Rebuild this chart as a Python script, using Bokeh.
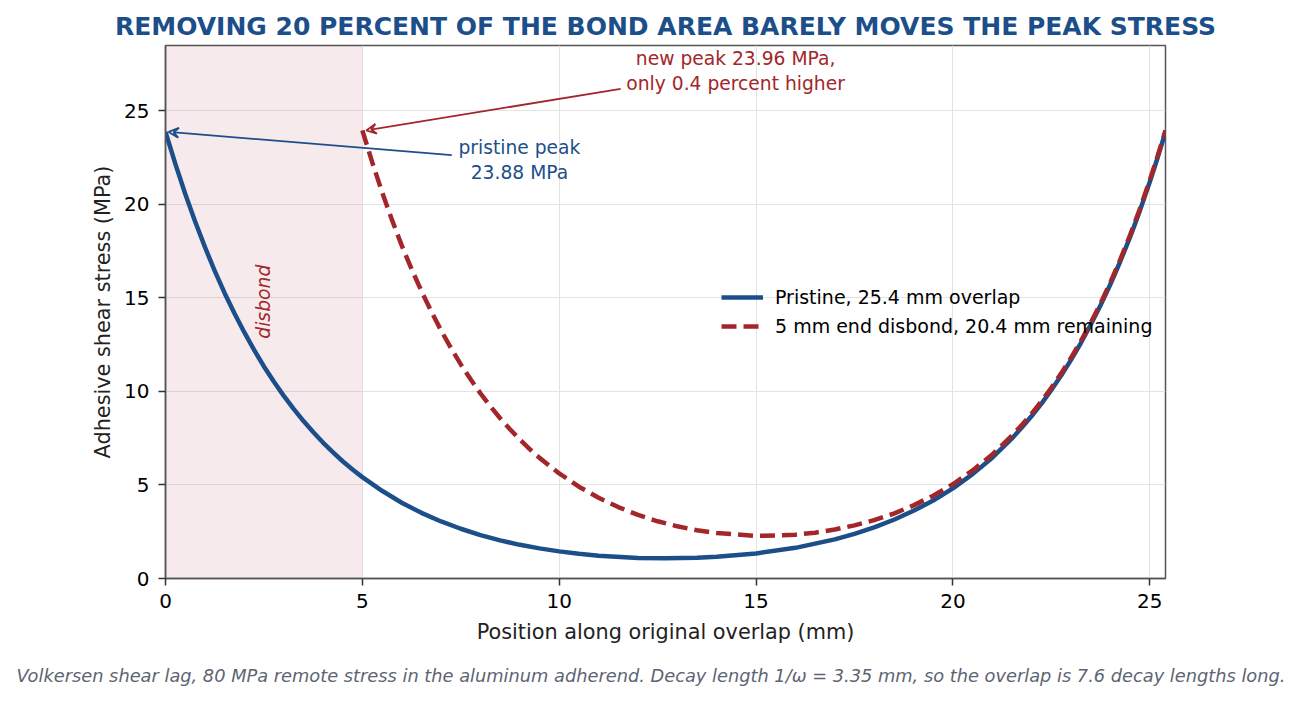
from bokeh.plotting import figure
from bokeh.models import (BoxAnnotation, Label, Arrow, VeeHead, Legend, LegendItem,
                          FixedTicker, Range1d, ColumnDataSource, Title)
from bokeh.embed import file_html
from bokeh.resources import INLINE

# ---- data ----
pristine_x = [0, 0.25, 0.5, 0.75, 1, 1.25, 1.5, 1.75, 2, 2.25, 2.5, 2.75, 3, 3.25, 3.5, 3.75,
              4, 4.25, 4.5, 4.75, 5, 5.5, 6, 6.5, 7, 7.5, 8, 8.5, 9, 9.5, 10, 10.5, 11, 12,
              12.7, 13.5, 14, 15, 16, 17, 17.5, 18, 18.5, 19, 19.5, 20, 20.5, 21, 21.5,
              21.75, 22, 22.25, 22.5, 22.75, 23, 23.25, 23.5, 23.75, 24, 24.25, 24.5, 24.75,
              25, 25.2, 25.4]
pristine_y = [23.88, 22.17, 20.57, 19.10, 17.73, 16.45, 15.27, 14.18, 13.17, 12.22, 11.34,
              10.53, 9.78, 9.08, 8.43, 7.83, 7.27, 6.76, 6.27, 5.83, 5.42, 4.69, 4.05, 3.51,
              3.05, 2.66, 2.32, 2.04, 1.80, 1.61, 1.45, 1.32, 1.22, 1.10, 1.08, 1.11, 1.16,
              1.34, 1.64, 2.09, 2.39, 2.73, 3.14, 3.62, 4.17, 4.82, 5.58, 6.46, 7.49, 8.07,
              8.69, 9.35, 10.08, 10.85, 11.69, 12.59, 13.57, 14.61, 15.73, 16.95, 18.25,
              19.67, 21.20, 22.50, 23.88]

disbond_x = [5, 5.25, 5.5, 5.75, 6, 6.25, 6.5, 6.75, 7, 7.25, 7.5, 7.75, 8, 8.25, 8.5, 8.75,
             9, 9.25, 9.5, 10, 10.5, 11, 11.5, 12, 12.5, 13, 13.5, 14, 15, 15.2, 16, 16.5,
             17, 17.5, 18, 18.5, 19, 19.5, 20, 20.5, 21, 21.5, 21.75, 22, 22.25, 22.5,
             22.75, 23, 23.25, 23.5, 23.75, 24, 24.25, 24.5, 24.75, 25, 25.2, 25.4]
disbond_y = [23.96, 22.26, 20.67, 19.19, 17.81, 16.55, 15.37, 14.28, 13.26, 12.33, 11.45,
             10.65, 9.90, 9.21, 8.57, 7.98, 7.43, 6.92, 6.45, 5.62, 4.91, 4.32, 3.82, 3.40,
             3.06, 2.79, 2.58, 2.43, 2.28, 2.28, 2.34, 2.45, 2.62, 2.84, 3.12, 3.47, 3.91,
             4.43, 5.04, 5.78, 6.63, 7.64, 8.21, 8.82, 9.48, 10.20, 10.97, 11.80, 12.70,
             13.67, 14.71, 15.83, 17.05, 18.36, 19.77, 21.30, 22.60, 23.96]

x_ticks = [0, 5, 10, 15, 20, 25]
y_ticks = [0, 5, 10, 15, 20, 25]
disbond_zone = [0, 5]
overlap_len = 25.4
y_max = 28.5

legend_labels = ["Pristine, 25.4 mm overlap", "5 mm end disbond, 20.4 mm remaining"]
title_text = "REMOVING 20 PERCENT OF THE BOND AREA BARELY MOVES THE PEAK STRESS"
caption_text = ("Volkersen shear lag, 80 MPa remote stress in the aluminum adherend. "
                "Decay length 1/\u03c9 = 3.35 mm, so the overlap is 7.6 decay lengths long.")
pristine_note = "pristine peak\n23.88 MPa"
disbond_note = "new peak 23.96 MPa,\nonly 0.4 percent higher"

BLUE = "#1c4f8a"
RED = "#a3262a"
FONT = "DejaVu Sans"

W, H = 1289, 694
p = figure(frame_width=1000, frame_height=533, width=W, height=H,
           min_border_left=165, min_border_right=124, min_border_top=45, min_border_bottom=116,
           x_range=Range1d(0, overlap_len), y_range=Range1d(0, y_max),
           output_backend="svg", toolbar_location=None)
p.background_fill_color = "white"
p.border_fill_color = "white"
p.outline_line_color = "#555555"
p.outline_line_width = 1.5

# title
p.title.text = title_text
p.title.text_font = FONT
p.title.text_font_size = "25px"
p.title.text_font_style = "bold"
p.title.text_color = BLUE
p.title.align = "center"

# axes
for ax in (p.xaxis[0], p.yaxis[0]):
    ax.major_label_text_font = FONT
    ax.major_label_text_font_size = "20px"
    ax.major_label_text_color = "black"
    ax.axis_label_text_font = FONT
    ax.axis_label_text_font_size = "20.8px"
    ax.axis_label_text_font_style = "normal"
    ax.axis_label_text_color = "#222222"
    ax.axis_line_color = "#555555"
    ax.axis_line_width = 1.5
    ax.major_tick_line_color = "#333333"
    ax.major_tick_line_width = 1.5
    ax.major_tick_out = 7
    ax.major_tick_in = 0
    ax.minor_tick_line_color = None
p.xaxis.ticker = FixedTicker(ticks=x_ticks)
p.yaxis.ticker = FixedTicker(ticks=y_ticks)
p.xaxis.axis_label = "Position along original overlap (mm)"
p.yaxis.axis_label = "Adhesive shear stress (MPa)"
p.xaxis.major_label_standoff = 8
p.yaxis.major_label_standoff = 9
p.xaxis.axis_label_standoff = 9
p.yaxis.axis_label_standoff = 6

p.xgrid.ticker = FixedTicker(ticks=x_ticks)
p.ygrid.ticker = FixedTicker(ticks=y_ticks)
p.grid.grid_line_color = "#e3e3e3"
p.grid.grid_line_width = 1

# disbond shading
p.add_layout(BoxAnnotation(left=disbond_zone[0], right=disbond_zone[1],
                           fill_color="#b03040", fill_alpha=0.1, line_color=None,
                           level="underlay"))

src_p = ColumnDataSource(dict(x=pristine_x, y=pristine_y))
src_d = ColumnDataSource(dict(x=disbond_x, y=disbond_y))
r1 = p.line("x", "y", source=src_p, line_color=BLUE, line_width=4.5)
r2 = p.line("x", "y", source=src_d, line_color=RED, line_width=4.5, line_dash="15 7")

legend = Legend(items=[LegendItem(label=legend_labels[0], renderers=[r1]),
                       LegendItem(label=legend_labels[1], renderers=[r2])],
                location=(556, 240))
legend.label_text_font = FONT
legend.label_text_font_size = "19px"
legend.label_text_color = "black"
legend.glyph_width = 42
legend.glyph_height = 24
legend.spacing = 5
legend.label_standoff = 12
legend.padding = 6
legend.margin = 0
legend.border_line_color = None
legend.background_fill_alpha = 0
p.add_layout(legend)

# "disbond" label
p.add_layout(Label(x=2.5, y=14.8, text="disbond", angle=90, angle_units="deg",
                   text_font=FONT, text_font_size="18.8px", text_font_style="italic",
                   text_color=RED, text_align="center", text_baseline="middle"))

# arrows + notes
p.add_layout(Arrow(end=VeeHead(size=10, line_color=BLUE, line_width=1.8, fill_color=None),
                   x_start=7.27, y_start=22.64, x_end=0.08, y_end=23.88,
                   line_color=BLUE, line_width=1.8))
p.add_layout(Arrow(end=VeeHead(size=10, line_color=RED, line_width=1.8, fill_color=None),
                   x_start=11.56, y_start=26.18, x_end=5.1, y_end=23.96,
                   line_color=RED, line_width=1.8))

p.add_layout(Label(x=8.99, y=22.38, text=pristine_note, text_font=FONT,
                   text_font_size="18.7px", text_color=BLUE, text_align="center",
                   text_baseline="middle", text_line_height=1.2))
p.add_layout(Label(x=14.48, y=27.14, text=disbond_note, text_font=FONT,
                   text_font_size="18.7px", text_color=RED, text_align="center",
                   text_baseline="middle", text_line_height=1.2))

# caption as a title below the x axis
cap = Title(text=caption_text, align="left", offset=-149, standoff=33,
            text_font=FONT, text_font_size="17.8px", text_font_style="italic",
            text_color="#5d6472")
p.add_layout(cap, "below")

open("out.html", "w").write(file_html(p, INLINE))
